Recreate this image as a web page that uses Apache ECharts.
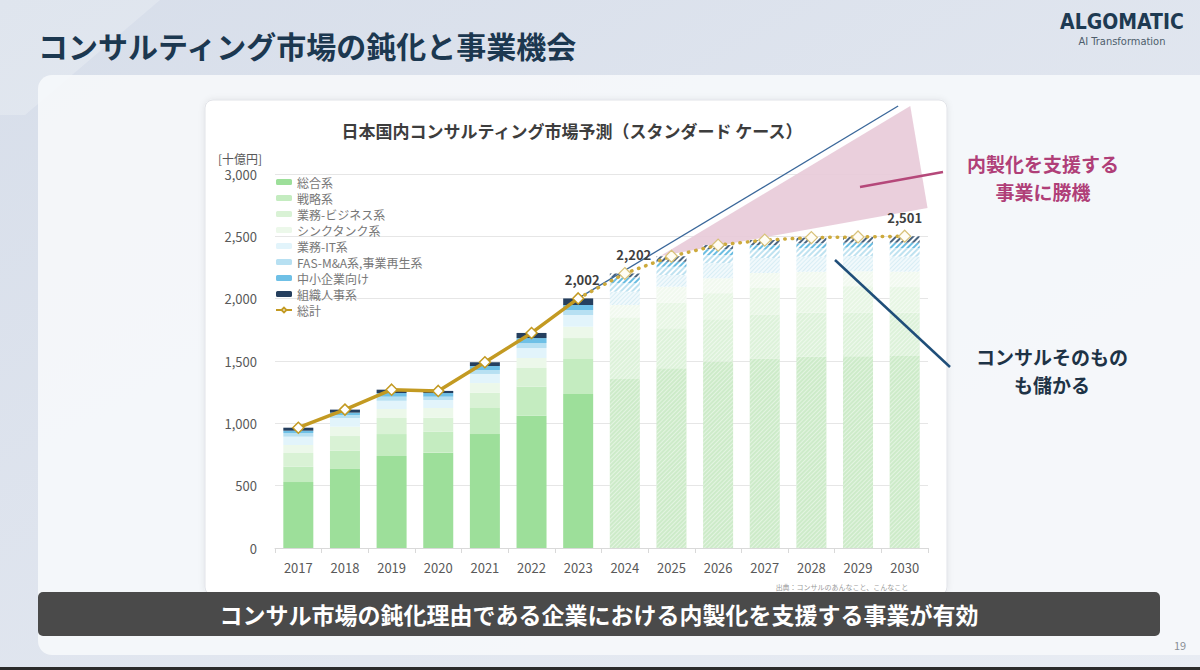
<!DOCTYPE html>
<html><head><meta charset="utf-8">
<script src="https://cdn.jsdelivr.net/npm/echarts@6/dist/echarts.min.js"></script>
<style>html,body{margin:0;padding:0;width:1200px;height:670px;overflow:hidden;background:#e3e8f1}#c{width:1200px;height:670px}</style>
</head><body><div id="c"></div>
<script>
// ---------- data ----------
const years = ['2017','2018','2019','2020','2021','2022','2023','2024','2025','2026','2027','2028','2029','2030'];
const firstForecastIndex = 7;
const sogo      = [529,634,738,765,914,1061,1235,1356,1441,1495,1521,1535,1538,1540];
const senryaku  = [123,146,176,168,209,233,281,312,321,340,351,353,352,348];
const gyomuBiz  = [110,118,129,112,123,150,168,182,206,209,214,208,210,205];
const thinkTank = [64,75,72,78,77,80,91,99,128,120,120,120,120,124];
const gyomuIT   = [67,70,66,64,73,80,94,107,94,120,120,121,122,120];
const fasMA     = [29,24,33,27,32,40,40,67,66,66,67,67,67,68];
const chusho    = [19,19,29,29,32,40,40,48,40,46,37,40,40,44];
const soshiki   = [24,24,27,17,30,41,53,31,44,34,40,46,46,52];
const totalActual   = [965,1110,1270,1260,1490,1725,2002];          // 2017-2023
const totalForecast = [2202,2340,2430,2470,2490,2495,2501];         // 2024-2030
const labeledYears = ['2023','2024','2030'];
const yTicks = [0,500,1000,1500,2000,2500,3000];
const trendLine = [[6,2002],[12.86,3545]];                 // [year index, value]
const pinkArea  = [[7.76,2342],[13.12,3545],[13.49,2727]]; // [year index, value]
const segNames = ['総合系','戦略系','業務-ビジネス系','シンクタンク系','業務-IT系','FAS-M&A系,事業再生系','中小企業向け','組織人事系'];
const segData  = [sogo,senryaku,gyomuBiz,thinkTank,gyomuIT,fasMA,chusho,soshiki];
const totalName = '総計';

// ---------- styles ----------
const FONT = '"Noto Sans CJK JP","Noto Sans",sans-serif';
const segStyles = [
  {c:'#9ddf9a', fc:'#cdebc9', dc:'rgba(255,255,255,0.45)', dy:[1,2]},
  {c:'#c4ecc0', fc:'#ddf2da', dc:'rgba(255,255,255,0.5)',  dy:[1,2]},
  {c:'#d9f2d5', fc:'#e7f6e4', dc:'rgba(255,255,255,0.5)',  dy:[1,2]},
  {c:'#ecf8ea', fc:'#f1f9ef', dc:'rgba(255,255,255,0.6)',  dy:[1,2]},
  {c:'#e2f4fb', fc:'#f1f9fc', dc:'rgba(200,230,240,0.6)',  dy:[1,2]},
  {c:'#b7e0f2', fc:'#ffffff', dc:'#bfe2f0', dy:[1.5,2]},
  {c:'#6fc0e6', fc:'#ffffff', dc:'#6bbde1', dy:[2,2]},
  {c:'#253f5e', fc:'#ffffff', dc:'#4a6580', dy:[1.5,2]}
];
const GOLD = '#c39a22';

const barSeries = segNames.map((name, s) => ({
  name, type:'bar', stack:'total', barWidth:30, z:2,
  itemStyle:{color:segStyles[s].c},
  emphasis:{disabled:true},
  data: segData[s].map((v, i) => i < firstForecastIndex ? v : {
    value:v,
    itemStyle:{color:segStyles[s].fc, decal:{symbol:'rect', symbolSize:1, dashArrayX:[1,0], dashArrayY:segStyles[s].dy, rotation:-Math.PI/4, color:segStyles[s].dc}}
  })
}));

const labelStyle = {show:true, position:'top', distance:6, color:'#3f3f3f', fontSize:13, fontWeight:'bold', fontFamily:FONT,
  formatter:p => Number(p.value).toLocaleString('en-US')};

const actualData = years.map((y, i) => {
  if (i >= totalActual.length) return '-';
  const v = totalActual[i];
  return labeledYears.includes(y) ? {value:v, label:Object.assign({}, labelStyle, {offset:[4,0]})} : v;
});
const forecastData = years.map((y, i) => {
  if (i < firstForecastIndex - 1) return '-';
  if (i === firstForecastIndex - 1) return {value:totalActual[i], symbol:'none'};
  const v = totalForecast[i - firstForecastIndex];
  return labeledYears.includes(y) ? {value:v, label:Object.assign({}, labelStyle, {offset:[i===13?0:9,0]})} : v;
});

const txt = (text, x, y, o) => ({type:'text', z:o.z || 5, style:Object.assign({text, x, y, align:'center', verticalAlign:'middle', fontFamily:FONT}, o.s)});

const graphics = [
  {type:'rect', z:-5, shape:{x:0,y:0,width:1200,height:670}, style:{fill:new echarts.graphic.LinearGradient(0,0,1,1,[{offset:0,color:'#d7deea'},{offset:1,color:'#e8ecf3'}])}},
  {type:'polygon', z:-5, z2:1, shape:{points:[[0,0],[160,0],[25,115],[0,115]]}, style:{fill:'rgba(255,255,255,0.22)'}},
  {type:'rect', z:-4, shape:{x:38,y:75,width:1190,height:580,r:14}, style:{fill:'rgba(246,248,251,0.9)'}},
  {type:'rect', z:-3, shape:{x:205,y:100,width:742,height:495,r:8}, style:{fill:'#ffffff', stroke:'#e1e3e8', lineWidth:1, shadowBlur:6, shadowColor:'rgba(0,0,0,0.08)'}},
  txt('出典：コンサルのあんなこと、こんなこと', 842, 587, {z:-2, s:{fill:'#9a9a9a', fontSize:7}}),
  txt('日本国内コンサルティング市場予測（スタンダード ケース）', 572, 130, {s:{fill:'#3d3d3d', fontSize:17, fontWeight:'bold'}}),
  txt('[十億円]', 240, 158, {s:{fill:'#595959', fontSize:12}}),
  txt('コンサルティング市場の鈍化と事業機会', 38, 45, {s:{align:'left', fill:'#1c3850', fontSize:30, fontWeight:'bold'}}),
  txt('ALGOMATIC', 1122, 22, {s:{fill:'#1e3a52', fontSize:21, fontWeight:'bold', fontFamily:'"DejaVu Sans Condensed","DejaVu Sans",sans-serif'}}),
  txt('AI Transformation', 1122, 41, {s:{fill:'#4d5d6c', fontSize:11, fontFamily:'"DejaVu Sans Condensed","DejaVu Sans",sans-serif'}}),
  {type:'line', z:20, shape:{x1:860,y1:187,x2:943,y2:172}, style:{stroke:'#b5487a', lineWidth:2.5}},
  {type:'line', z:20, shape:{x1:835,y1:260,x2:950,y2:367}, style:{stroke:'#1f4e79', lineWidth:2.5}},
  txt('内製化を支援する', 1043, 163, {z:20, s:{fill:'#b03f78', fontSize:19, fontWeight:'bold'}}),
  txt('事業に勝機', 1043, 191, {z:20, s:{fill:'#b03f78', fontSize:19, fontWeight:'bold'}}),
  txt('コンサルそのもの', 1052, 356, {z:20, s:{fill:'#1e3346', fontSize:19, fontWeight:'bold'}}),
  txt('も儲かる', 1052, 384, {z:20, s:{fill:'#1e3346', fontSize:19, fontWeight:'bold'}}),
  {type:'rect', z:30, shape:{x:38,y:592,width:1122,height:44,r:5}, style:{fill:'#4a4a4a'}},
  txt('コンサル市場の鈍化理由である企業における内製化を支援する事業が有効', 599, 614, {z:31, s:{fill:'#ffffff', fontSize:23, fontWeight:'bold'}}),
  txt('19', 1180, 645, {s:{fill:'#8a8f96', fontSize:11}}),
  {type:'rect', z:5, shape:{x:0,y:667,width:1200,height:3}, style:{fill:'#2b2b2b'}}
];

const chart = echarts.init(document.getElementById('c'), null, {renderer:'svg', width:1200, height:670});
chart.setOption({
  animation:false,
  textStyle:{fontFamily:FONT},
  graphic:graphics,
  legend:{
    orient:'vertical', left:270, top:170, itemWidth:16, itemHeight:6, itemGap:2,
    textStyle:{color:'#777777', fontSize:12, lineHeight:14, fontFamily:FONT},
    data:[...segNames, totalName], selectedMode:false
  },
  grid:{left:275, right:272, top:174, bottom:122},
  xAxis:[
    {type:'category', data:years, boundaryGap:true,
     axisLine:{lineStyle:{color:'#d9d9d9'}}, axisTick:{show:true, length:5, lineStyle:{color:'#d9d9d9'}},
     axisLabel:{color:'#595959', fontSize:13, margin:13, fontFamily:FONT}},
    {type:'value', min:-0.5, max:years.length-0.5, show:false, position:'top'}
  ],
  yAxis:{type:'value', min:yTicks[0], max:yTicks[yTicks.length-1], interval:yTicks[1]-yTicks[0],
    axisLine:{show:false}, axisTick:{show:false},
    splitLine:{lineStyle:{color:'#e6e6e6'}},
    axisLabel:{color:'#595959', fontSize:13, margin:18, fontFamily:FONT, formatter:v => v.toLocaleString('en-US')}},
  series:[
    {type:'custom', name:'pink', xAxisIndex:1, yAxisIndex:0, z:1, silent:true, clip:false,
     data:[pinkArea[0]],
     renderItem:(params, api) => ({type:'polygon', shape:{points:pinkArea.map(p => api.coord(p))}, style:{fill:'#e8cbd9', opacity:0.92}})},
    ...barSeries,
    {type:'line', name:'trend', xAxisIndex:1, yAxisIndex:0, data:trendLine, clip:false, symbol:'none', silent:true, z:4,
     lineStyle:{color:'#3a679a', width:1.3}},
    {type:'line', name:totalName+'予測', data:forecastData, symbol:'diamond', symbolSize:12, z:5,
     lineStyle:{color:'#cdaa3c', width:3.5, type:[0.5,7], cap:'round'},
     itemStyle:{color:'#fffdf5', borderColor:'#d8c27a', borderWidth:1.2}},
    {type:'line', name:totalName, data:actualData, symbol:'diamond', symbolSize:11, z:6,
     lineStyle:{color:GOLD, width:3.5},
     itemStyle:{color:'#ffffff', borderColor:GOLD, borderWidth:1.5}}
  ]
});
</script></body></html>
